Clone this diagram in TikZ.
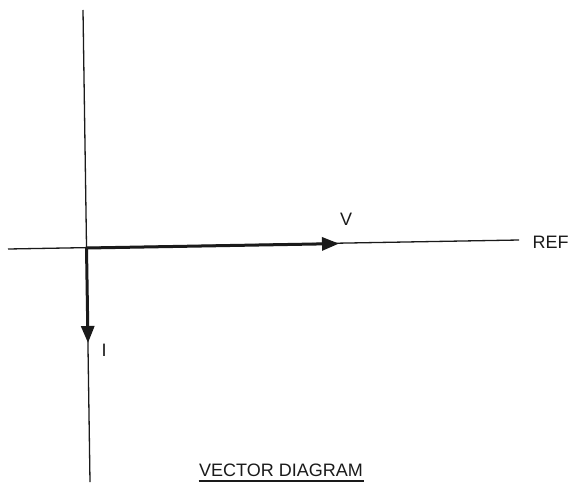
\documentclass[tikz,border=0pt]{standalone}
\usepackage{fontspec}
\setmainfont{Liberation Sans}
\usetikzlibrary{arrows.meta, positioning}
\definecolor{cink}{HTML}{1A1A1A}
\tikzset{
  every picture/.style={font=\fontsize{18}{21}\selectfont, line width=1.3pt},
  axis/.style={draw=cink, line width=1.3pt},
  vec/.style={-{Triangle[length=17pt, width=13pt]}, draw=cink, line width=3pt},
  lbl/.style={text=cink, inner sep=0pt},
}

\begin{document}
\begin{tikzpicture}[x=1pt, y=-1pt]
  \useasboundingbox (0,0) rectangle (577,487);
  % axes
  \coordinate (top) at (83,10);
  \coordinate (bottom) at (90,482);
  \coordinate (left) at (8,249);
  \coordinate (right) at (519,240);
  \coordinate (O) at (86.5,248);
  \draw[axis] (top) -- (bottom);
  \draw[axis] (left) -- (right);
  % vectors
  \coordinate (vtip) at (339,243.6);
  \coordinate (itip) at (88,343);
  \draw[vec] (O) -- (vtip);
  \draw[vec] (O) -- (itip);
  % labels
  \node[lbl] (vlabel) at (346,219) {V};
  \node[lbl] (ilabel) at (104,350) {I};
  \node[lbl, anchor=west] (reflabel) at (532,242) {REF};
  \node[lbl, inner ysep=4pt] (title) at (281,470) {VECTOR DIAGRAM};
  \draw[draw=cink, line width=1.2pt] (title.south west) -- (title.south east);
\end{tikzpicture}
\end{document}
